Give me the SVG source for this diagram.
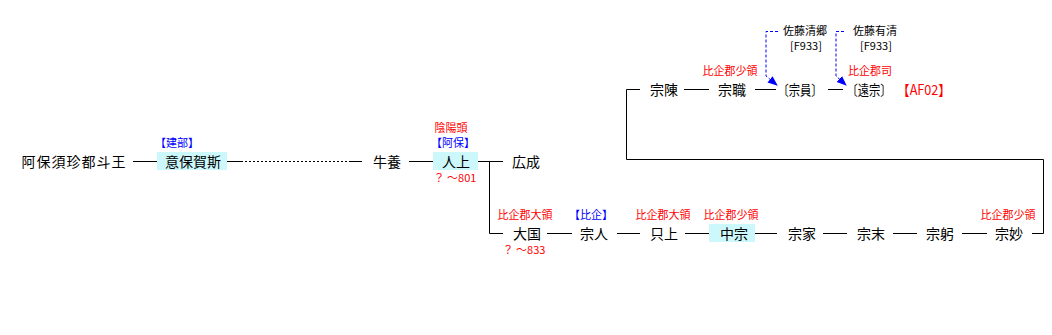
<svg xmlns="http://www.w3.org/2000/svg" width="1052" height="335" viewBox="0 0 1052 335">
<defs>
<style>
text{font-family:"Noto Sans CJK JP","Noto Sans CJK SC",sans-serif;text-anchor:middle}
.n{font-size:14px;fill:#000}
.s{font-size:11px;fill:#000}
.r{font-size:11px;fill:#ff0000}
.b{font-size:11px;fill:#0000ff}
.rb{font-size:14px;fill:#ff0000}
.hl{fill:#ccf8fc}
.ln{stroke:#000;stroke-width:1;fill:none}
.dt{stroke:#000;stroke-width:1;stroke-dasharray:2 2;fill:none}
.ar{stroke:#0000ff;stroke-width:1;stroke-dasharray:3 2;fill:none;marker-end:url(#ah)}
</style>
<marker id="ah" markerWidth="10" markerHeight="10" refX="9" refY="5" orient="auto" markerUnits="userSpaceOnUse">
<path d="M0,1 L10,5 L0,9 Z" fill="#0000ff"/>
</marker>
</defs>
<rect width="1052" height="335" fill="#fff"/>
<g id="connectors">
<path class="ln" d="M133 161.5H157"/>
<path class="ln" d="M227 161.5H241"/>
<path class="dt" d="M241 161.5H350"/>
<path class="ln" d="M350 161.5H362"/>
<path class="ln" d="M409 161.5H433"/>
<path class="ln" d="M478 161.5H503"/>
<path class="ln" d="M489.5 161.5V233.5H503"/>
<path class="ln" d="M547 233.5H572"/>
<path class="ln" d="M617 233.5H640"/>
<path class="ln" d="M685 233.5H709"/>
<path class="ln" d="M755 233.5H777"/>
<path class="ln" d="M823 233.5H847"/>
<path class="ln" d="M893 233.5H917"/>
<path class="ln" d="M962 233.5H987"/>
<path class="ln" d="M1032 233.5H1043.5V159.5H626.5V89.5H640"/>
<path class="ln" d="M684 89.5H709"/>
<path class="ln" d="M755 89.5H776"/>
<path class="ln" d="M828 89.5H843"/>
<path class="ar" d="M778 31.5H766V76L777 85"/>
<path class="ar" d="M844 31.5H836V76L846 85"/>
</g>
<g id="n1"><text class="n" x="74" y="167" letter-spacing="1">阿保須珍都斗王</text></g>
<g id="n2"><rect class="hl" x="157" y="152" width="70" height="18"/><text class="b" x="177" y="147">【建部】</text><text class="n" x="193" y="167">意保賀斯</text></g>
<g id="n3"><text class="n" x="387" y="167">牛養</text></g>
<g id="n4"><rect class="hl" x="433" y="152" width="45" height="18"/><text class="r" x="451" y="132">陰陽頭</text><text class="b" x="453" y="147">【阿保】</text><text class="n" x="456" y="167">人上</text><text class="r" x="455" y="182">？ ～801</text></g>
<g id="n5"><text class="n" x="526" y="167">広成</text></g>
<g id="n6"><text class="r" x="525" y="219">比企郡大領</text><text class="n" x="527" y="239">大国</text><text class="r" x="524" y="254">？ ～833</text></g>
<g id="n7"><text class="b" x="591" y="219">【比企】</text><text class="n" x="594" y="239">宗人</text></g>
<g id="n8"><text class="r" x="663" y="219">比企郡大領</text><text class="n" x="664" y="239">只上</text></g>
<g id="n9"><rect class="hl" x="709" y="224" width="46" height="18"/><text class="r" x="731" y="219">比企郡少領</text><text class="n" x="734" y="239">中宗</text></g>
<g id="n10"><text class="n" x="802" y="239">宗家</text></g>
<g id="n11"><text class="n" x="871" y="239">宗末</text></g>
<g id="n12"><text class="n" x="940" y="239">宗躬</text></g>
<g id="n13"><text class="r" x="1008" y="219">比企郡少領</text><text class="n" x="1009" y="239">宗妙</text></g>
<g id="n14"><text class="n" x="664" y="95">宗陳</text></g>
<g id="n15"><text class="r" x="730" y="75">比企郡少領</text><text class="n" x="732" y="95">宗職</text></g>
<g id="n16"><text class="n" x="800" y="95" textLength="45" lengthAdjust="spacingAndGlyphs">〔宗員〕</text></g>
<g id="n17"><text class="r" x="870" y="75">比企郡司</text><text class="n" x="869" y="95" textLength="45" lengthAdjust="spacingAndGlyphs">〔遠宗〕</text><text class="rb" x="924" y="95" textLength="54" lengthAdjust="spacingAndGlyphs">【AF02】</text></g>
<g id="n18"><text class="s" x="805" y="35">佐藤清郷</text><text class="s" x="806" y="50">[F933]</text></g>
<g id="n19"><text class="s" x="875" y="35">佐藤有清</text><text class="s" x="876" y="50">[F933]</text></g>
</svg>
